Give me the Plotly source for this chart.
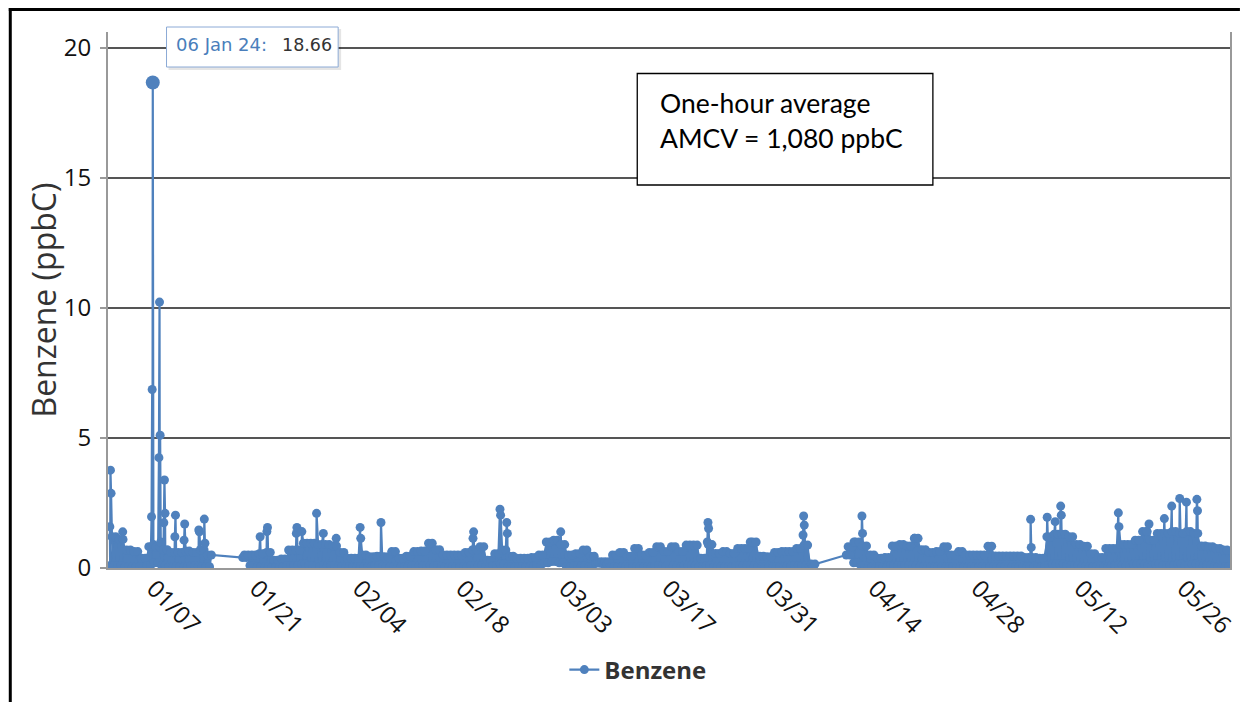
import plotly.graph_objects as go
import pandas as pd

# ---------------- data ----------------
START_DAY = "2024-01-01"

# daily blob top (typical daily high) and daily low, Jan 1 .. Jun 1 (None = no data)
daily_high = [
    1.2, 1.1, 0.69, 0.63, 0.37, 0.82, 0.8, 0.7, 0.6, 0.6,
    0.65, 0.6, 0.7, 0.5, None, None, None, None, 0.5, 0.5,
    0.55, 0.6, 0.3, 0.35, 0.69, 0.69, 0.95, 0.95, 0.9, 0.9,
    0.85, 0.6, 0.37, 0.37, 0.5, 0.43, 0.45, 0.43, 0.63, 0.37,
    0.45, 0.63, 0.65, 0.95, 0.7, 0.5, 0.5, 0.5, 0.6, 0.7,
    0.82, 0.3, 0.55, 0.69, 0.45, 0.37, 0.37, 0.4, 0.5, 1.0,
    1.07, 0.9, 0.5, 0.55, 0.69, 0.45, 0.24, 0.24, 0.5, 0.6,
    0.45, 0.75, 0.5, 0.6, 0.82, 0.63, 0.82, 0.63, 0.88, 0.88,
    0.37, 0.9, 0.56, 0.63, 0.56, 0.75, 0.75, 1.0, 0.45, 0.43,
    0.6, 0.63, 0.63, 0.75, 0.88, 0.15, None, None, None, None,
    0.82, 1.0, 0.85, 0.5, 0.37, 0.4, 0.85, 0.9, 0.85, 1.14,
    0.7, 0.6, 0.63, 0.82, 0.5, 0.63, 0.5, 0.5, 0.5, 0.84,
    0.46, 0.46, 0.46, 0.46, 0.4, 0.4, 0.37, 1.2, 1.3, 1.3,
    1.2, 0.9, 0.84, 0.55, 0.4, 0.75, 0.75, 0.9, 0.9, 1.07,
    1.4, 1.07, 1.33, 1.33, 1.4, 1.33, 1.4, 1.33, 0.85, 0.82,
    0.75, 0.69, 0.6,
]
daily_low = [
    0.1, 0.1, 0.05, 0.05, 0.05, 0.1, 0.2, 0.1, 0.05, 0.05,
    0.05, 0.1, 0.05, 0.05, None, None, None, None, 0.4, 0.1,
    0.05, 0.05, 0.05, 0.05, 0.1, 0.1, 0.15, 0.1, 0.05, 0.1,
    0.1, 0.05, 0.05, 0.05, 0.05, 0.05, 0.1, 0.05, 0.05, 0.05,
    0.05, 0.1, 0.1, 0.1, 0.1, 0.05, 0.05, 0.05, 0.05, 0.1,
    0.1, 0.05, 0.1, 0.15, 0.05, 0.05, 0.05, 0.05, 0.1, 0.2,
    0.25, 0.2, 0.05, 0.1, 0.1, 0.05, 0.18, 0.15, 0.05, 0.05,
    0.05, 0.05, 0.05, 0.05, 0.1, 0.05, 0.1, 0.05, 0.1, 0.1,
    0.05, 0.1, 0.05, 0.05, 0.05, 0.1, 0.1, 0.1, 0.05, 0.05,
    0.05, 0.05, 0.1, 0.1, 0.1, 0.05, None, None, None, None,
    0.5, 0.2, 0.1, 0.05, 0.05, 0.05, 0.1, 0.1, 0.1, 0.1,
    0.05, 0.05, 0.05, 0.05, 0.05, 0.05, 0.05, 0.05, 0.05, 0.05,
    0.05, 0.05, 0.05, 0.05, 0.05, 0.05, 0.05, 0.1, 0.15, 0.15,
    0.1, 0.1, 0.05, 0.05, 0.05, 0.05, 0.1, 0.1, 0.1, 0.15,
    0.15, 0.1, 0.15, 0.1, 0.1, 0.15, 0.1, 0.15, 0.1, 0.1,
    0.05, 0.05, 0.05,
]

# individual hourly peaks (the spikes with visible markers)
spike_times = [
    "2024-01-01 01:00", "2024-01-01 03:00", "2024-01-01 05:00",
    "2024-01-02 19:00",
    "2024-01-06 17:00", "2024-01-06 19:00", "2024-01-06 21:00", "2024-01-06 23:00",
    "2024-01-07 17:00", "2024-01-07 19:00", "2024-01-07 21:00", "2024-01-07 23:00",
    "2024-01-08 09:00", "2024-01-08 11:00", "2024-01-08 13:00",
    "2024-01-09 21:00", "2024-01-09 23:00",
    "2024-01-11 03:00", "2024-01-11 05:00",
    "2024-01-13 03:00", "2024-01-13 05:00",
    "2024-01-13 21:00", "2024-01-13 23:00",
    "2024-01-21 11:00",
    "2024-01-22 09:00", "2024-01-22 11:00",
    "2024-01-26 09:00", "2024-01-26 11:00",
    "2024-01-27 03:00",
    "2024-01-29 03:00",
    "2024-01-30 01:00",
    "2024-01-31 19:00",
    "2024-02-04 01:00", "2024-02-04 03:00",
    "2024-02-06 21:00",
    "2024-02-19 09:00", "2024-02-19 11:00",
    "2024-02-23 01:00", "2024-02-23 03:00", "2024-02-23 23:00", "2024-02-24 01:00",
    "2024-03-02 07:00",
    "2024-03-22 05:00", "2024-03-22 07:00", "2024-03-22 09:00",
    "2024-03-28 01:00",
    "2024-04-04 05:00", "2024-04-04 07:00", "2024-04-04 09:00",
    "2024-04-11 03:00",
    "2024-04-12 05:00", "2024-04-12 07:00",
    "2024-04-19 09:00",
    "2024-05-05 03:00", "2024-05-05 05:00",
    "2024-05-07 09:00",
    "2024-05-08 11:00",
    "2024-05-09 05:00", "2024-05-09 07:00",
    "2024-05-17 01:00", "2024-05-17 03:00",
    "2024-05-20 23:00",
    "2024-05-21 05:00",
    "2024-05-23 07:00",
    "2024-05-24 07:00",
    "2024-05-25 09:00",
    "2024-05-26 07:00",
    "2024-05-27 17:00", "2024-05-27 19:00",
]
spike_values = [
    1.59, 3.76, 2.87,
    1.39,
    1.97, 6.86, 18.66, 0.9,
    4.24, 10.22, 5.1, 1.0,
    1.74, 3.38, 2.1,
    1.2, 2.03,
    1.07, 1.69,
    1.46, 1.39,
    1.88, 0.95,
    1.2,
    1.4, 1.56,
    1.33, 1.56,
    1.4,
    2.1,
    1.33,
    1.14,
    1.56, 1.14,
    1.75,
    1.14, 1.39,
    2.26, 2.03, 1.75, 1.33,
    1.39,
    1.0, 1.75, 1.52,
    1.0,
    1.27, 2.0, 1.65,
    1.0,
    2.0, 1.33,
    1.14,
    1.87, 0.79,
    1.95,
    1.78,
    2.38, 2.03,
    2.12, 1.59,
    1.4,
    1.69,
    1.9,
    2.38,
    2.67,
    2.53,
    2.64, 2.2,
]

x_range = ["2023-12-31 19:00", "2024-06-01 05:00"]
x_tick0 = "2024-01-07"
x_tick_step_days = 14
y_ticks = [0, 5, 10, 15, 20]
y_range = [0, 20.6]

series_name = "Benzene"
y_title = "Benzene (ppbC)"
tooltip_date = "06 Jan 24:"
tooltip_value = "18.66"
box_lines = ["One-hour average", "AMCV = 1,080 ppbC"]

assert len(daily_high) == len(daily_low)
assert len(spike_times) == len(spike_values)

# ---------------- build the hourly-like series ----------------
day0 = pd.Timestamp(START_DAY)
LOW_HOURS, HIGH_HOURS = (2, 14), (8, 20)

pts = []
segments = []          # runs of consecutive days with data: (low pts, high pts)
cur = None
for d, (lo, hi) in enumerate(zip(daily_low, daily_high)):
    if lo is None or hi is None:
        cur = None
        continue
    if cur is None:
        cur = ([], [])
        segments.append(cur)
    base = day0 + pd.Timedelta(days=d)
    for h in LOW_HOURS:
        t = base + pd.Timedelta(hours=h)
        pts.append((t, lo))
        cur[0].append((t, lo))
    for h in HIGH_HOURS:
        t = base + pd.Timedelta(hours=h)
        pts.append((t, hi))
        cur[1].append((t, hi))
for t, v in zip(spike_times, spike_values):
    pts.append((pd.Timestamp(t), v))
pts.sort(key=lambda p: p[0])
xs = [p[0] for p in pts]
ys = [p[1] for p in pts]

peak_i = max(range(len(spike_values)), key=lambda i: spike_values[i])
peak_x = pd.Timestamp(spike_times[peak_i])
peak_y = spike_values[peak_i]

# ---------------- styling / layout ----------------
BLUE = "#4F81BD"
W, H = 1249, 702
L, R, T, B = 108, 1239, 32, 568


def px(x):
    return (x - L) / (R - L)


def py(y):
    return (B - y) / (B - T)


fig = go.Figure()
# dense band between the daily lows and highs (hourly data is packed too
# tightly to show individual points at this scale)
for lows, highs in segments:
    fig.add_trace(go.Scatter(
        x=[p[0] for p in lows], y=[p[1] for p in lows], mode="lines",
        line=dict(width=0, color=BLUE), showlegend=False, hoverinfo="skip",
    ))
    fig.add_trace(go.Scatter(
        x=[p[0] for p in highs], y=[p[1] for p in highs], mode="lines",
        line=dict(width=0, color=BLUE), fill="tonexty", fillcolor=BLUE,
        showlegend=False, hoverinfo="skip",
    ))
fig.add_trace(go.Scatter(
    x=xs, y=ys, mode="lines+markers", name="<b>" + series_name + "</b>",
    line=dict(color=BLUE, width=2.2, simplify=False),
    marker=dict(color=BLUE, size=9),
    hoverinfo="skip",
))
fig.add_trace(go.Scatter(
    x=[peak_x], y=[peak_y], mode="markers", showlegend=False,
    marker=dict(color=BLUE, size=14), hoverinfo="skip", cliponaxis=False,
))

fig.update_layout(
    width=W, height=H, autosize=False,
    margin=dict(l=L, r=W - R, t=T, b=H - B, pad=0),
    paper_bgcolor="white", plot_bgcolor="white",
    showlegend=True,
    legend=dict(
        orientation="h", x=px(568), xanchor="left", y=py(670), yanchor="middle",
        font=dict(family="Open Sans", size=24, color="#333333"),
        bgcolor="rgba(0,0,0,0)",
    ),
    xaxis=dict(
        type="date", range=x_range,
        tick0=x_tick0, dtick=x_tick_step_days * 86400000, tickformat="%m/%d",
        tickangle=45, tickfont=dict(family="Open Sans", size=24, color="#111111"),
        showgrid=False, zeroline=False, showline=True, linecolor="#999999", linewidth=2,
        ticks="", ticklabelstandoff=-5,
    ),
    yaxis=dict(
        range=y_range, tickmode="array", tickvals=y_ticks,
        tickfont=dict(family="Open Sans", size=24, color="#111111"),
        showgrid=True, gridcolor="#555555", gridwidth=1.5, zeroline=False,
        showline=True, mirror=True, linecolor="#999999", linewidth=2,
        ticks="outside", ticklen=6, tickwidth=1.5, tickcolor="#999999",
        ticklabelstandoff=4,
    ),
)

shapes = [
    # outer frame (top and left black lines)
    dict(type="line", xref="paper", yref="paper", x0=px(8), x1=px(1249), y0=py(9.5), y1=py(9.5),
         line=dict(color="black", width=3)),
    dict(type="line", xref="paper", yref="paper", x0=px(9.5), x1=px(9.5), y0=py(8), y1=py(702),
         line=dict(color="black", width=3)),
    # text box
    dict(type="rect", xref="paper", yref="paper", x0=px(641.5), x1=px(939.5), y0=py(185), y1=py(73.5),
         line=dict(color="black", width=1.3), fillcolor="white", layer="above"),
    # tooltip shadow + box
    dict(type="rect", xref="paper", yref="paper", x0=px(169), x1=px(343), y0=py(70), y1=py(29),
         line=dict(width=0), fillcolor="rgba(0,0,0,0.10)", layer="above"),
    dict(type="rect", xref="paper", yref="paper", x0=px(167), x1=px(340), y0=py(67), y1=py(27),
         line=dict(color="#8CAAD6", width=1), fillcolor="white", layer="above"),
]
fig.update_layout(shapes=shapes)

annotations = [
    dict(text=y_title, textangle=-90, xref="paper", yref="paper", x=px(42), y=py(300),
         xanchor="center", yanchor="middle", showarrow=False,
         font=dict(family="Open Sans", size=32, color="#333333")),
    dict(text=box_lines[0], xref="paper", yref="paper", x=px(662), y=py(103),
         xanchor="left", yanchor="middle", showarrow=False,
         font=dict(family="Lato", size=26.5, color="black")),
    dict(text=box_lines[1], xref="paper", yref="paper", x=px(662), y=py(138),
         xanchor="left", yanchor="middle", showarrow=False,
         font=dict(family="Lato", size=26.5, color="black")),
    dict(text=tooltip_date, xref="paper", yref="paper", x=px(175), y=py(45),
         xanchor="left", yanchor="middle", showarrow=False,
         font=dict(family="DejaVu Sans", size=18, color="#4A7EBB")),
    dict(text=tooltip_value, xref="paper", yref="paper", x=px(281), y=py(45),
         xanchor="left", yanchor="middle", showarrow=False,
         font=dict(family="DejaVu Sans", size=17.5, color="#333333")),
]
fig.update_layout(annotations=annotations)

fig.write_html("out.html", config={"displayModeBar": False},
               post_script="document.body.style.margin='0';")
